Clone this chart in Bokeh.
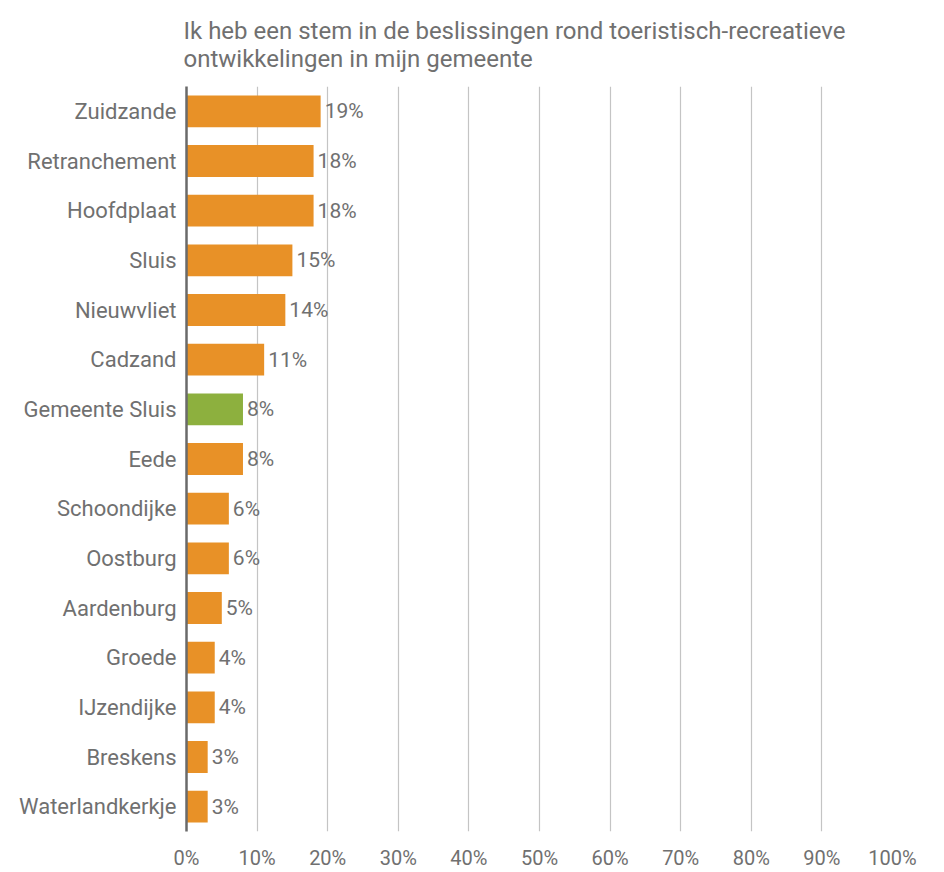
from bokeh.plotting import figure
from bokeh.models import ColumnDataSource, FactorRange, Range1d, Title, FixedTicker
from bokeh.core.properties import value
from bokeh.embed import file_html
from bokeh.resources import INLINE

title_lines = ["Ik heb een stem in de beslissingen rond toeristisch-recreatieve",
               "ontwikkelingen in mijn gemeente"]
categories = ["Zuidzande", "Retranchement", "Hoofdplaat", "Sluis", "Nieuwvliet", "Cadzand",
              "Gemeente Sluis", "Eede", "Schoondijke", "Oostburg", "Aardenburg", "Groede",
              "IJzendijke", "Breskens", "Waterlandkerkje"]
values = [19, 18, 18, 15, 14, 11, 8, 8, 6, 6, 5, 4, 4, 3, 3]
highlight = "Gemeente Sluis"
x_ticks = [0, 10, 20, 30, 40, 50, 60, 70, 80, 90, 100]

ORANGE = "#E89127"
GREEN = "#8DB03E"
TEXT = "#707070"
FONT = "Roboto"

colors = [GREEN if c == highlight else ORANGE for c in categories]
labels = [f"{v}%" for v in values]
src = ColumnDataSource(dict(cat=categories, val=values, color=colors, label=labels))

p = figure(width=944, height=872, output_backend="svg", toolbar_location=None,
           y_range=FactorRange(factors=categories[::-1], range_padding=0),
           x_range=Range1d(0, 100),
           min_border_left=186, min_border_right=52, min_border_top=86, min_border_bottom=36)
p.outline_line_color = None
p.background_fill_color = "white"
p.border_fill_color = "white"

p.hbar(y="cat", right="val", left=0, height=0.64, color="color", line_color=None, source=src)
p.text(x="val", y="cat", text="label", source=src, x_offset=4,
       text_baseline="middle", text_align="left", text_color=TEXT,
       text_font=value(FONT), text_font_size="21px")

# grid
p.ygrid.grid_line_color = None
p.xgrid.ticker = FixedTicker(ticks=x_ticks)
p.xgrid.grid_line_color = "#c4c4c4"
p.xgrid.grid_line_width = 1.2

# x axis
p.xaxis.ticker = FixedTicker(ticks=x_ticks)
p.xaxis.major_label_overrides = {t: f"{t}%" for t in x_ticks}
p.xaxis.axis_line_color = None
p.xaxis.major_tick_line_color = None
p.xaxis.minor_tick_line_color = None
p.xaxis.major_tick_out = 0
p.xaxis.major_tick_in = 0
p.xaxis.major_label_standoff = 14
p.xaxis.major_label_text_font = FONT
p.xaxis.major_label_text_font_size = "20px"
p.xaxis.major_label_text_color = TEXT

# y axis
p.yaxis.axis_line_color = "#6a6a6a"
p.yaxis.axis_line_width = 2.5
p.yaxis.major_tick_line_color = None
p.yaxis.minor_tick_line_color = None
p.yaxis.major_tick_out = 0
p.yaxis.major_tick_in = 0
p.yaxis.major_label_standoff = 10
p.yaxis.major_label_text_font = FONT
p.yaxis.major_label_text_font_size = "22px"
p.yaxis.major_label_text_color = TEXT

# two-line title
p.add_layout(Title(text="\n".join(title_lines), align="left", offset=-3, standoff=27,
                   text_font=FONT, text_font_size="24px", text_color=TEXT,
                   text_font_style="normal", text_line_height=1.0), "above")

open("out.html", "w").write(file_html(p, INLINE))
